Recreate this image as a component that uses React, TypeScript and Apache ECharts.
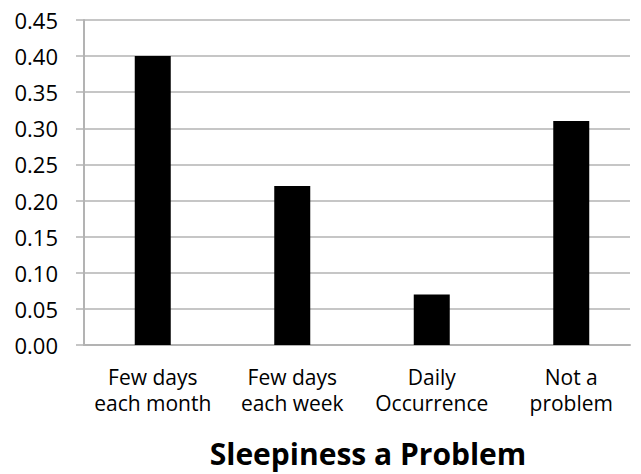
import React, { useEffect, useRef } from "react";
import * as echarts from "echarts";

const categories = ["Few days\neach month", "Few days\neach week", "Daily\nOccurrence", "Not a\nproblem"];
const values = [0.4, 0.22, 0.07, 0.31];
const chartTitle = "Sleepiness a Problem";
const yMin = 0;
const yMax = 0.45;
const yStep = 0.05;

const FONT = "'Open Sans', 'Noto Sans', sans-serif";

export default function App() {
  const ref = useRef<HTMLDivElement>(null);
  useEffect(() => {
    if (!ref.current) return;
    const chart = echarts.init(ref.current, null, { renderer: "svg" });
    chart.setOption({
      animation: false,
      backgroundColor: "#ffffff",
      grid: [
        { left: 84, right: 11, top: 20, bottom: 129 },
        { left: 83, width: 571, top: 20, bottom: 129 },
      ],
      xAxis: [
        {
          type: "category",
          gridIndex: 0,
          data: categories,
          axisLine: { show: true, lineStyle: { color: "#b3b3b3", width: 2 } },
          axisTick: { show: false },
          axisLabel: { show: false },
          splitLine: { show: false },
        },
        {
          type: "category",
          gridIndex: 1,
          data: categories,
          axisLine: { show: false },
          axisTick: { show: false },
          axisLabel: {
            show: true,
            interval: 0,
            color: "#000",
            fontFamily: FONT,
            fontSize: 21,
            lineHeight: 26,
            margin: 19,
          },
          splitLine: { show: false },
        },
      ],
      yAxis: [
        {
          type: "value",
          gridIndex: 0,
          min: yMin,
          max: yMax,
          interval: yStep,
          axisLine: { show: true, lineStyle: { color: "#b3b3b3", width: 2 } },
          axisTick: { show: true, length: 8, lineStyle: { color: "#b3b3b3", width: 1.5 } },
          axisLabel: {
            color: "#000",
            fontFamily: FONT,
            fontSize: 22,
            margin: 26,
            formatter: (v: number) => v.toFixed(2),
          },
          splitLine: { show: true, lineStyle: { color: "#b3b3b3", width: 1.5 } },
        },
        {
          type: "value",
          gridIndex: 1,
          min: yMin,
          max: yMax,
          interval: yStep,
          show: false,
          splitLine: { show: false },
        },
      ],
      series: [
        {
          type: "bar",
          xAxisIndex: 1,
          yAxisIndex: 1,
          data: values,
          barWidth: 36,
          itemStyle: { color: "#000000" },
        },
      ],
      graphic: [
        {
          type: "text",
          x: 368,
          y: 453,
          style: {
            text: chartTitle,
            fontFamily: FONT,
            fontWeight: "bold",
            fontSize: 30,
            fill: "#000",
            textAlign: "center",
            textVerticalAlign: "middle",
          },
        },
      ],
    });
    return () => chart.dispose();
  }, []);
  return (
    <div
      ref={ref}
      style={{ position: "fixed", left: 0, top: 0, width: 641, height: 474 }}
    />
  );
}
